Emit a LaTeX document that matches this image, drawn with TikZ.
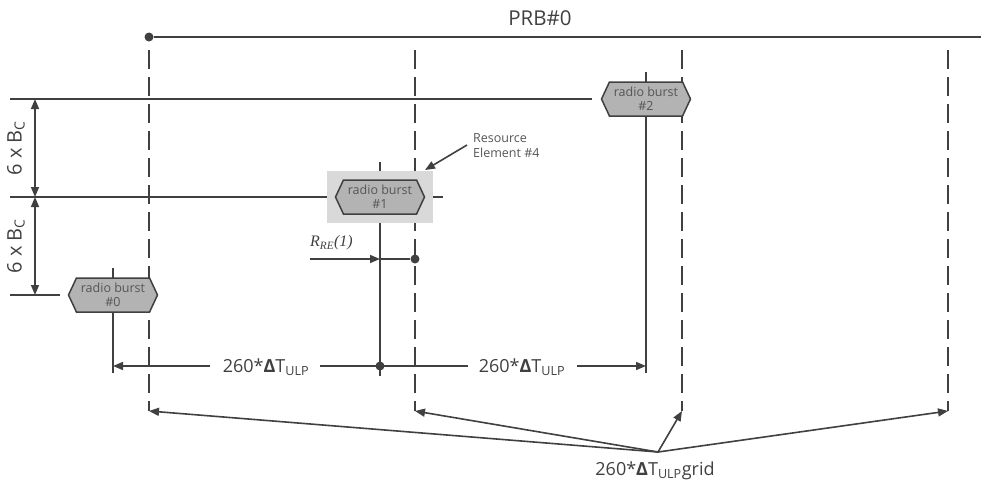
\documentclass[tikz,border=0pt]{standalone}
\usepackage{fontspec}
\setmainfont{Open Sans}
\newfontfamily\serifit{Liberation Serif}
\usetikzlibrary{shapes.symbols,arrows.meta}
\definecolor{ln}{HTML}{404040}
\definecolor{txt}{HTML}{404040}
\definecolor{btxt}{HTML}{555555}
\definecolor{burstgray}{HTML}{B3B3B3}
\definecolor{boxgray}{HTML}{D9D9D9}
\begin{document}
\begin{tikzpicture}[x=1pt,y=-1pt,
  thin line/.style={draw=ln, line width=1.6pt},
  gridline/.style={draw=ln, line width=2.5pt, dash pattern=on 19pt off 8pt},
  arr/.style={-{Triangle[length=10pt,width=8pt]}},
  darr/.style={{Triangle[length=10pt,width=8pt]}-{Triangle[length=10pt,width=8pt]}},
  burst/.style={signal, signal to=east and west, signal pointer angle=130, draw=ln, fill=burstgray,
    line width=1.5pt, minimum width=89pt, minimum height=34pt, inner sep=0pt,
    font=\fontsize{12.5}{14}\selectfont, text=btxt, align=center},
  big/.style={font=\fontsize{18}{20}\selectfont, text=txt, inner sep=0pt},
  dot/.style={circle, fill=ln, inner sep=0pt, minimum size=9pt}
]
\useasboundingbox (0,0) rectangle (981,483);

% PRB line
\node[dot] (prbdot) at (149,37) {};
\coordinate (prbend) at (981,37);
\draw[thin line] (prbdot) -- (prbend);
\node[big, font=\fontsize{20.5}{22}\selectfont] (prb) at (540,18) {PRB\#0};

% grid lines
\coordinate (g0t) at (149,50); \coordinate (g0b) at (149,411);
\coordinate (g1t) at (415,50); \coordinate (g1b) at (415,411);
\coordinate (g2t) at (682,50); \coordinate (g2b) at (682,411);
\coordinate (g3t) at (948,50); \coordinate (g3b) at (948,411);
\draw[gridline] (g0t) -- (g0b);
\draw[gridline] (g1t) -- (g1b);
\draw[gridline] (g2t) -- (g2b);
\draw[gridline] (g3t) -- (g3b);

% horizontal reference lines
\coordinate (h0a) at (10,99);  \coordinate (h0b) at (592,99);
\coordinate (h1a) at (10,197); \coordinate (h1b) at (327,197);
\coordinate (h1c) at (433,197); \coordinate (h1d) at (443,197);
\coordinate (h2a) at (10,295); \coordinate (h2b) at (60,295);
\draw[thin line] (h0a) -- (h0b);
\draw[thin line] (h1a) -- (h1b);
\draw[thin line] (h1c) -- (h1d);
\draw[thin line] (h2a) -- (h2b);

% vertical dimension arrows
\coordinate (v0) at (35,99); \coordinate (v1) at (35,197); \coordinate (v2) at (35,295);
\draw[thin line, darr] (v0) -- (v1);
\draw[thin line, darr] (v1) -- (v2);
\node[big, rotate=90, font=\fontsize{20}{22}\selectfont] (bc1) at (16,148) {6 x B\textsubscript{C}};
\node[big, rotate=90, font=\fontsize{20}{22}\selectfont] (bc2) at (16,246) {6 x B\textsubscript{C}};

% burst vertical lines
\coordinate (b2t) at (646,72);  \coordinate (b2d) at (646,373);
\coordinate (b1t) at (380,162); \coordinate (b1d) at (380,376);
\coordinate (b0t) at (113,268); \coordinate (b0d) at (113,373);
\draw[thin line] (b2t) -- (b2d);
\draw[thin line] (b1t) -- (b1d);
\draw[thin line] (b0t) -- (b0d);

% resource element box and bursts
\node[fill=boxgray, minimum width=106pt, minimum height=52pt, inner sep=0pt] (re4) at (380,197) {};
\node[burst] (b1) at (380,197) {radio burst\\\#1};
\node[burst] (b2) at (646,99) {radio burst\\\#2};
\node[burst] (b0) at (113,295) {radio burst\\\#0};

% resource element label
\node[anchor=west, align=left, inner sep=0pt, font=\fontsize{12.5}{15}\selectfont, text=btxt] (relbl) at (473,146) {Resource\\Element \#4};
\coordinate (rea) at (467,145);
\coordinate (reb) at (425,170);
\draw[thin line, arr] (rea) -- (reb);

% R_RE(1)
\node[anchor=west, font=\fontsize{16}{18}\selectfont\serifit\itshape, text=txt, inner sep=0pt] (rre) at (310,243) {R\textsubscript{RE}(1)};
\coordinate (ra) at (310,259);
\coordinate (rb) at (380,259);
\node[dot] (rdot) at (415,259) {};
\draw[thin line, arr] (ra) -- (rb);
\draw[thin line] (rb) -- (rdot);

% horizontal dimension
\node[big] (t1) at (266,367) {260*\textbf{Δ}T\textsubscript{ULP}};
\node[big] (t2) at (522,367) {260*\textbf{Δ}T\textsubscript{ULP}};
\coordinate (dl) at (113,366);
\coordinate (dr) at (646,366);
\coordinate (t1w) at (210,366); \coordinate (t1e) at (320,366);
\coordinate (t2w) at (468,366); \coordinate (t2e) at (577,366);
\draw[thin line, arr] (t1w) -- (dl);
\draw[thin line] (t1e) -- (t2w);
\draw[thin line, arr] (t2e) -- (dr);
\node[dot] (ddot) at (380,366) {};

% grid arrows
\coordinate (hub) at (658,452);
\draw[thin line, arr] (hub) -- (g0b);
\draw[thin line, arr] (hub) -- (g1b);
\draw[thin line, arr] (hub) -- (g2b);
\draw[thin line, arr] (hub) -- (g3b);
\node[big] (gridlbl) at (655,471) {260*\textbf{Δ}T\textsubscript{ULP}grid};
\end{tikzpicture}
\end{document}
